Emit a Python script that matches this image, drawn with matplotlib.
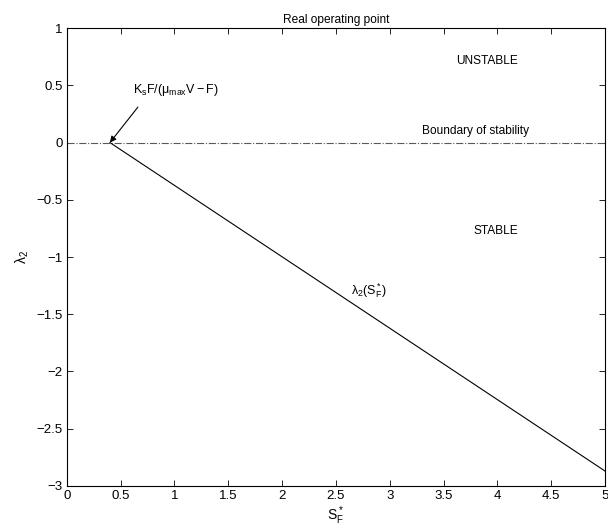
import matplotlib
matplotlib.use('Agg')
import matplotlib.pyplot as plt

plt.rcParams['font.family'] = ['Liberation Sans', 'DejaVu Sans']
plt.rcParams['mathtext.fontset'] = 'custom'
plt.rcParams['mathtext.rm'] = 'Liberation Sans'
plt.rcParams['mathtext.it'] = 'Liberation Sans'
plt.rcParams['mathtext.default'] = 'regular'
plt.rcParams['font.size'] = 8.6

# data
sf = [0.4, 5.0]
lam2 = [0.0, -2.87]
boundary_x = [0, 5]
boundary_y = [0, 0]
xticks = [0, 0.5, 1, 1.5, 2, 2.5, 3, 3.5, 4, 4.5, 5]
yticks = [-3, -2.5, -2, -1.5, -1, -0.5, 0, 0.5, 1]

fig = plt.figure(figsize=(6.08, 5.31), dpi=100)
ax = fig.add_axes([0.110, 0.085, 0.885, 0.862])

ax.plot(boundary_x, boundary_y, color='0.35', linestyle='-.', linewidth=0.8)
ax.plot(sf, lam2, color='black', linewidth=0.8)

ax.set_xlim(0, 5)
ax.set_ylim(-3, 1)
ax.set_xticks(xticks)
ax.set_yticks(yticks)
ax.set_xticklabels(['0', '0.5', '1', '1.5', '2', '2.5', '3', '3.5', '4', '4.5', '5'])
ax.set_yticklabels(['\u22123', '\u22122.5', '\u22122', '\u22121.5', '\u22121', '\u22120.5', '0', '0.5', '1'])
ax.tick_params(direction='in', top=True, right=True, length=4, width=0.6,
               labelsize=9.5, pad=3)
for s in ax.spines.values():
    s.set_linewidth(0.8)

ax.set_title('Real operating point', fontsize=8.6, pad=4)
ax.set_xlabel(r'$S_F^*$', fontsize=10, labelpad=2)
ax.set_ylabel(r'$\lambda_2$', fontsize=10)

ax.text(3.90, 0.71, 'UNSTABLE', ha='center', va='center')
ax.text(3.99, -0.77, 'STABLE', ha='center', va='center')
ax.text(3.80, 0.10, 'Boundary of stability', ha='center', va='center')
ax.text(2.64, -1.29, r'$\lambda_2(S_F^*)$', ha='left', va='center', fontsize=9)
ax.text(0.61, 0.46, r'$K_sF/(\mu_{max}V-F)$', ha='left', va='center', fontsize=9)
ax.annotate('', xy=(0.40, 0.0), xytext=(0.66, 0.31),
            arrowprops=dict(arrowstyle='-|>', color='black', lw=0.8,
                            shrinkA=0, shrinkB=0, mutation_scale=9))

fig.savefig('out.png', dpi=100)
